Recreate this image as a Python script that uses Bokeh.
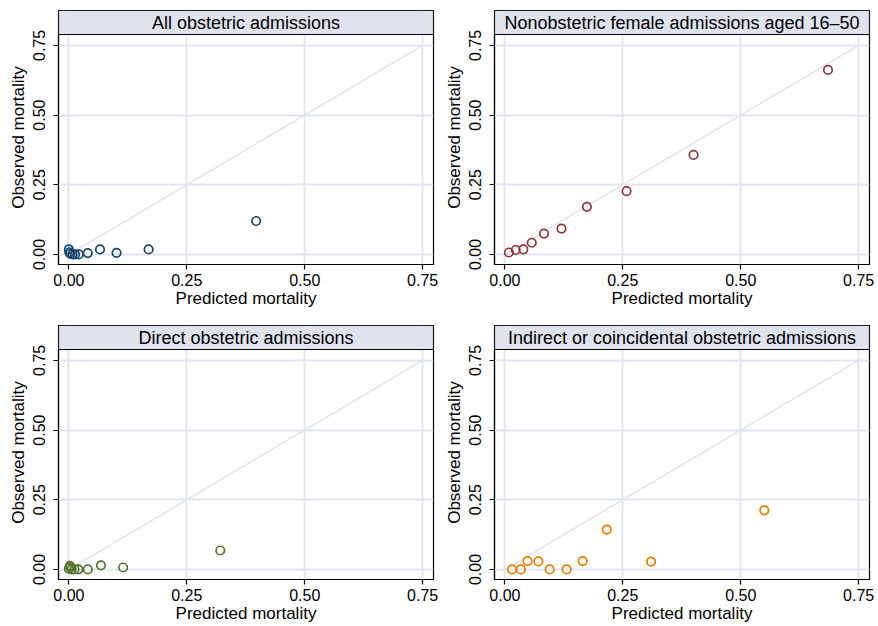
from bokeh.plotting import figure
from bokeh.layouts import column, row
from bokeh.models import BoxAnnotation, Label, FixedTicker, Span
from bokeh.embed import file_html
from bokeh.resources import INLINE

# ---------------- data ----------------
titles = ["All obstetric admissions",
          "Nonobstetric female admissions aged 16\u201350",
          "Direct obstetric admissions",
          "Indirect or coincidental obstetric admissions"]

all_obs_pred = [0.000, 0.001, 0.003, 0.008, 0.013, 0.021, 0.040, 0.066, 0.101, 0.169, 0.397]
all_obs_obs = [0.018, 0.008, 0.003, 0.000, 0.000, 0.000, 0.005, 0.018, 0.006, 0.018, 0.120]

nonobs_pred = [0.0085, 0.023, 0.039, 0.057, 0.083, 0.120, 0.174, 0.258, 0.400, 0.685]
nonobs_obs = [0.007, 0.016, 0.018, 0.042, 0.075, 0.093, 0.171, 0.227, 0.357, 0.662]

direct_pred = [0.000, 0.002, 0.003, 0.006, 0.012, 0.020, 0.040, 0.068, 0.115, 0.321]
direct_obs = [0.003, 0.013, 0.008, 0.000, 0.000, 0.000, 0.000, 0.015, 0.007, 0.068]

indirect_pred = [0.015, 0.034, 0.048, 0.071, 0.095, 0.131, 0.165, 0.216, 0.310, 0.550]
indirect_obs = [0.000, 0.000, 0.030, 0.029, 0.000, 0.000, 0.030, 0.143, 0.028, 0.212]

ticks = [0.0, 0.25, 0.5, 0.75]
tick_labels = {0.0: "0.00", 0.25: "0.25", 0.5: "0.50", 0.75: "0.75"}
ref_line = [0.0, 0.75]

colors = ["#1a476f", "#90353b", "#55752f", "#e37e00"]
series = [(all_obs_pred, all_obs_obs), (nonobs_pred, nonobs_obs),
          (direct_pred, direct_obs), (indirect_pred, indirect_obs)]

# ---------------- styling ----------------
FONT = "Liberation Sans"
GRID = "#e1e5f0"
STRIP = "#dfe3ee"
X0, X1 = -0.022, 0.773
Y0, YM = -0.036, 0.789
STRIP_PX = 24
FRAME_W, FRAME_H = 375, 254


def make_panel(i, left, right, top, bottom):
    plot_px = FRAME_H - STRIP_PX
    y_end = YM + STRIP_PX * (YM - Y0) / plot_px
    width = left + FRAME_W + right
    height = top + FRAME_H + bottom
    p = figure(width=width, height=height, x_range=(X0, X1), y_range=(Y0, y_end),
               output_backend="svg", toolbar_location=None,
               min_border_left=left, min_border_right=right,
               min_border_top=top, min_border_bottom=bottom)
    p.outline_line_color = "black"
    p.outline_line_width = 1.2
    p.outline_line_alpha = 1.0
    p.background_fill_color = "white"
    p.border_fill_color = "white"

    for ax in (p.xaxis[0], p.yaxis[0]):
        ax.ticker = FixedTicker(ticks=ticks)
        ax.major_label_overrides = tick_labels
        ax.major_label_text_font = FONT
        ax.major_label_text_font_size = "16px"
        ax.major_label_text_color = "black"
        ax.axis_label_text_font = FONT
        ax.axis_label_text_font_size = "17px"
        ax.axis_label_text_font_style = "normal"
        ax.axis_label_text_color = "black"
        ax.axis_line_color = "black"
        ax.axis_line_width = 1.2
        ax.major_tick_line_color = "black"
        ax.major_tick_line_width = 1.2
        ax.major_tick_out = 5
        ax.major_tick_in = 0
        ax.minor_tick_line_color = None
    p.xaxis[0].major_label_standoff = 4
    p.xaxis[0].axis_label_standoff = 0
    p.yaxis[0].major_label_standoff = 8
    p.yaxis[0].axis_label_standoff = 3
    p.xaxis[0].axis_label = "Predicted mortality"
    p.yaxis[0].axis_label = "Observed mortality"
    p.yaxis[0].major_label_orientation = "vertical"
    p.yaxis[0].bounds = (Y0, YM)

    for g in (p.xgrid[0], p.ygrid[0]):
        g.ticker = FixedTicker(ticks=ticks)
        g.grid_line_color = GRID
        g.grid_line_width = 1.8

    p.line(ref_line, ref_line, line_color=GRID, line_width=1.6)
    xs, ys = series[i]
    p.scatter(xs, ys, marker="circle", size=8.5, line_color=colors[i],
              line_width=1.7, fill_alpha=0)

    strip = BoxAnnotation(left=X0, right=X1, bottom=YM, top=y_end,
                          fill_color=STRIP, fill_alpha=1.0,
                          line_color="black", line_width=1.2, line_alpha=1.0)
    p.add_layout(strip)
    p.add_layout(Span(location=YM, dimension="width", line_color="black", line_width=1.2))
    p.add_layout(Label(x=(X0 + X1) / 2, y=(YM + y_end) / 2, text=titles[i],
                       text_align="center", text_baseline="middle",
                       text_font=FONT, text_font_size="18px", text_color="black"))
    return p


p1 = make_panel(0, left=58, right=6, top=10, bottom=49)
p2 = make_panel(1, left=55, right=9, top=10, bottom=49)
p3 = make_panel(2, left=58, right=6, top=12, bottom=46)
p4 = make_panel(3, left=55, right=9, top=12, bottom=46)

layout = column(row(p1, p2), row(p3, p4))

open("out.html", "w").write(file_html(layout, INLINE))
